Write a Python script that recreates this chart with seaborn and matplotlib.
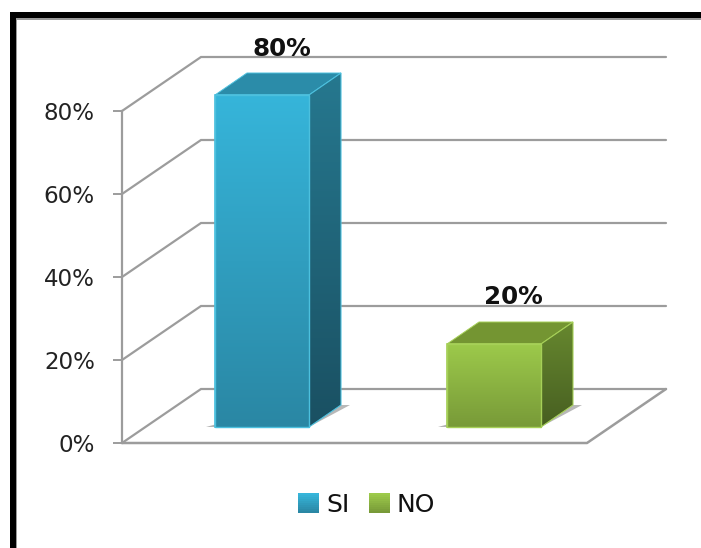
import numpy as np
import pandas as pd
import matplotlib
matplotlib.use("Agg")
import matplotlib.pyplot as plt
from matplotlib.patches import Polygon, Rectangle, Patch
from matplotlib.legend_handler import HandlerBase
from matplotlib.colors import to_rgb
import seaborn as sns

categories = ["SI", "NO"]
values = [80, 20]
axis_ticks = [0, 20, 40, 60, 80]
value_labels = ["80%", "20%"]

W, H = 701, 548
sns.set_theme(style="white")
plt.rcParams["font.family"] = ["DejaVu Sans"]

FRONT = {"SI": ("#36B5DA", "#2A87A4"), "NO": ("#9DCA4B", "#789A38")}
SIDE = {"SI": ("#26788F", "#1A5062"), "NO": ("#67882F", "#475F21")}
TOP = {"SI": "#2B8CA9", "NO": "#749532"}
EDGE = {"SI": "#4CC0DE", "NO": "#A6D058"}
GRID = "#9C9C9C"

# pixel geometry of the main axes: value 0 at y=427, 4.15 px per percent;
# category 0 centred on x=262, 232 px per category
PX_X, PX_Y = 232.0, 4.15
X0, Y0 = 262.0, 427.0
px = lambda x: (x - X0) / PX_X
py = lambda y: (Y0 - y) / PX_Y

fig = plt.figure(figsize=(W / 100, H / 100), dpi=100, facecolor="white")
ax = fig.add_axes([0, 0, 1, 1])

df = pd.DataFrame({"respuesta": categories, "valor": values})
sns.barplot(data=df, x="respuesta", y="valor", hue="respuesta", hue_order=categories,
            palette=[FRONT[c][0] for c in categories], width=94 / PX_X,
            legend=False, saturation=1, ax=ax, zorder=5)
xlim = (px(0), px(W))
ylim = (py(H), py(0))


def gradient(verts, c_top, c_bot, zorder):
    """Fill a polygon with a vertical colour gradient."""
    verts = np.asarray(verts)
    poly = Polygon(verts, closed=True, facecolor="none", edgecolor="none",
                   transform=ax.transData)
    ax.add_patch(poly)
    a, b = np.array(to_rgb(c_top)), np.array(to_rgb(c_bot))
    t = np.linspace(0, 1, 128)[:, None, None]
    img = a[None, None, :] * (1 - t) + b[None, None, :] * t
    im = ax.imshow(img, aspect="auto", interpolation="bilinear", zorder=zorder,
                   extent=(verts[:, 0].min(), verts[:, 0].max(),
                           verts[:, 1].min(), verts[:, 1].max()))
    im.set_clip_path(poly)


# back wall and floor, driven by the axis values
wall_dx, wall_dy = 79 / PX_X, 54 / PX_Y
floor_dy = -16 / PX_Y
right_x = px(587)
left_x = px(122)
for v in axis_ticks:
    ax.plot([left_x, left_x + wall_dx, right_x + wall_dx],
            [v + floor_dy, v + floor_dy + wall_dy, v + floor_dy + wall_dy],
            color=GRID, lw=1.6, zorder=1, solid_joinstyle="miter")
ax.plot([left_x, right_x, right_x + wall_dx],
        [floor_dy, floor_dy, floor_dy + wall_dy], color=GRID, lw=1.8, zorder=1.5)
ax.add_patch(Polygon([(left_x, floor_dy), (right_x, floor_dy),
                      (right_x + wall_dx, floor_dy + wall_dy),
                      (left_x + wall_dx, floor_dy + wall_dy)],
                     facecolor="white", edgecolor="none", zorder=0.5))

# 3D bars
dx, dy = 32 / PX_X, 22 / PX_Y
for cat, bar, val, lab in zip(categories, ax.patches, values, value_labels):
    x0, w = bar.get_x(), bar.get_width()
    x1 = x0 + w
    h = bar.get_height()
    # floor shadow
    ax.add_patch(Polygon([(x1, 0), (x1 + dx, dy), (x1 + dx + 9 / PX_X, dy)],
                         facecolor="#B8B8B8", edgecolor="none", zorder=2))
    ax.add_patch(Polygon([(x0 - 9 / PX_X, 0), (x0, 2.5 / PX_Y), (x0, 0)],
                         facecolor="#B4B4B4", edgecolor="none", zorder=2))
    # top and side faces
    ax.add_patch(Polygon([(x0, h), (x1, h), (x1 + dx, h + dy), (x0 + dx, h + dy)],
                         facecolor=TOP[cat], edgecolor=EDGE[cat], lw=0.7, zorder=4))
    side = [(x1, 0), (x1 + dx, dy), (x1 + dx, h + dy), (x1, h)]
    gradient(side, SIDE[cat][0], SIDE[cat][1], 4)
    ax.add_patch(Polygon(side, facecolor="none", edgecolor=EDGE[cat], lw=0.8, zorder=4.2))
    # front face: seaborn's own bar, shaded with a gradient clipped to it
    bar.set_edgecolor(EDGE[cat])
    bar.set_linewidth(1.2)
    gradient([(x0, 0), (x1, 0), (x1, h), (x0, h)], FRONT[cat][0], FRONT[cat][1], 5.5)
    ax.add_patch(Rectangle((x0, 0), w, h, facecolor="none", edgecolor=EDGE[cat],
                           lw=1.0, zorder=5.7))
    # value label
    ax.annotate(lab, (x0 + w / 2 + 19.5 / PX_X, h), xytext=(0, 46.5 * 0.72),
                textcoords="offset points", ha="center", va="center",
                fontsize=17.7, fontweight="bold", color="#111111", zorder=6)

ax.set_xlim(*xlim)
ax.set_ylim(*ylim)
ax.set_axis_off()

# front value axis: a real axis placed at the chart's left edge
ax_y = fig.add_axes([122 / W, 1 - 443 / H, 1 / W, (443 - 111) / H])
ax_y.patch.set_alpha(0)
ax_y.set_ylim(0, 80)
ax_y.set_xticks([])
ax_y.set_yticks(axis_ticks)
ax_y.set_yticklabels([f"{v}%" for v in axis_ticks])
for s in ["top", "right", "bottom"]:
    ax_y.spines[s].set_visible(False)
ax_y.spines["left"].set_color(GRID)
ax_y.spines["left"].set_linewidth(1.6)
ax_y.tick_params(axis="y", left=True, length=6.5, width=1.4, color=GRID, pad=13,
                 labelsize=16.6, labelcolor="#222222", direction="out")


class GradHandler(HandlerBase):
    def create_artists(self, legend, orig, xd, yd, width, height, fontsize, trans):
        c_top, c_bot = orig.grad
        a, b = np.array(to_rgb(c_top)), np.array(to_rgb(c_bot))
        n = 10
        arts = []
        for i in range(n):
            t = i / (n - 1)
            arts.append(Rectangle((-xd, -yd + height * (1 - (i + 1) / n)), width, height / n * 1.05,
                                  facecolor=a * (1 - t) + b * t, edgecolor="none", transform=trans))
        return arts


handles = []
for c in categories:
    p = Patch(label=c)
    p.grad = FRONT[c]
    handles.append(p)
ax.legend(handles=handles, handler_map={Patch: GradHandler()},
          loc="center", bbox_to_anchor=(366.5 / W, 1 - 505 / H), bbox_transform=fig.transFigure,
          ncol=2, frameon=False, fontsize=18, labelcolor="#111111",
          handlelength=0.84, handleheight=0.85, handletextpad=0.28, columnspacing=0.76,
          borderpad=0, borderaxespad=0)

# heavy frame of the picture: top and left only reach the image
fig.add_artist(Rectangle((10 / W, 0), 6 / W, 1 - 12 / H, transform=fig.transFigure,
                         facecolor="black", edgecolor="none"))
fig.add_artist(Rectangle((10 / W, 1 - 18 / H), 1 - 10 / W, 6 / H, transform=fig.transFigure,
                         facecolor="black", edgecolor="none"))
fig.add_artist(Rectangle((16 / W, 1 - 19.5 / H), 1 - 16 / W, 1.5 / H, transform=fig.transFigure,
                         facecolor="#9A9A9A", edgecolor="none"))
fig.add_artist(Rectangle((16 / W, 0), 1.2 / W, 1 - 18 / H, transform=fig.transFigure,
                         facecolor="#9A9A9A", edgecolor="none"))

fig.savefig("out.png", dpi=100)
